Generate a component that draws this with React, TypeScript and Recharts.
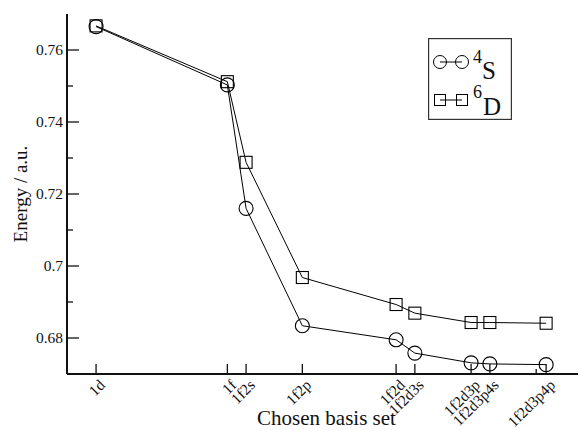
import React from 'react';
import { LineChart, Line, XAxis, YAxis, Legend } from 'recharts';

const basisSets = ['1d', '1f', '1f2s', '1f2p', '1f2d', '1f2d3s', '1f2d3p', '1f2d3p4s', '1f2d3p4p'];
// number of basis functions added (d=5, f=7, s=1, p=3), used as x position
const basisSize = [5, 12, 13, 16, 21, 22, 25, 26, 29];
const energy4S = [0.7665, 0.7503, 0.716, 0.6834, 0.6795, 0.6758, 0.6731, 0.6728, 0.6726];
const energy6D = [0.7667, 0.7512, 0.7288, 0.6968, 0.6893, 0.6869, 0.6843, 0.6843, 0.6841];
const xMinorTicks = [28.47];
const yTicks = [0.68, 0.69, 0.7, 0.71, 0.72, 0.73, 0.74, 0.75, 0.76];
const yLabels = ['0.68', '', '0.7', '', '0.72', '', '0.74', '', '0.76'];

const data = basisSets.map((name, i) => ({
  name,
  x: basisSize[i],
  s: energy4S[i],
  d: energy6D[i],
}));

const FONT = '"Liberation Serif", "Times New Roman", serif';
const INK = '#111';
const xTicks = [...basisSize, ...xMinorTicks];

const labelFor = (v: number) => {
  const i = basisSize.indexOf(v);
  return i >= 0 ? basisSets[i] : null;
};

const BottomTick = (props: any) => {
  const { x, y, payload } = props;
  const label = labelFor(payload.value);
  const len = label ? 10 : 5;
  return (
    <g>
      <line x1={x} y1={y} x2={x} y2={y - len} stroke={INK} strokeWidth={1.3} />
      {label && (
        <text
          transform={`translate(${x + 10},${y + 12}) rotate(-45)`}
          textAnchor="end"
          fontSize={15.5}
          fontFamily={FONT}
          fill={INK}
        >
          {label}
        </text>
      )}
    </g>
  );
};

const TopTick = (props: any) => {
  const { x, y, payload } = props;
  const len = labelFor(payload.value) ? 10 : 5;
  return <line x1={x} y1={y} x2={x} y2={y + len} stroke={INK} strokeWidth={1.3} />;
};

const LeftTick = (props: any) => {
  const { x, y, index } = props;
  const label = yLabels[index];
  const len = label ? 12 : 6;
  return (
    <g>
      <line x1={x} y1={y} x2={x + len} y2={y} stroke={INK} strokeWidth={1.3} />
      {label && (
        <text x={x - 4} y={y} dy="0.35em" textAnchor="end" fontSize={15.5} fontFamily={FONT} fill={INK}>
          {label}
        </text>
      )}
    </g>
  );
};

const RightTick = (props: any) => {
  const { x, y, index } = props;
  const len = yLabels[index] ? 12 : 6;
  return <line x1={x} y1={y} x2={x - len} y2={y} stroke={INK} strokeWidth={1.3} />;
};

const CircleDot = (props: any) => {
  const { cx, cy } = props;
  if (cx == null || cy == null) return null;
  return <circle cx={cx} cy={cy} r={7} fill="none" stroke="#000" strokeWidth={1.1} />;
};

const SquareDot = (props: any) => {
  const { cx, cy } = props;
  if (cx == null || cy == null) return null;
  return <rect x={cx - 6} y={cy - 6} width={12} height={12} fill="none" stroke="#000" strokeWidth={1.1} />;
};

const LegendBox = () => (
  <svg width={84} height={82} style={{ display: 'block' }}>
    <rect x={0.6} y={0.6} width={82.8} height={80.8} fill="#fff" stroke="#333" strokeWidth={1.2} />
    <line x1={12} y1={24} x2={34} y2={24} stroke="#000" strokeWidth={1} />
    <circle cx={12} cy={24} r={6.5} fill="none" stroke="#000" strokeWidth={1} />
    <circle cx={34} cy={24} r={6.5} fill="none" stroke="#000" strokeWidth={1} />
    <text x={45} y={25} fontSize={18} fontFamily={FONT} fill={INK}>4</text>
    <text x={54} y={41} fontSize={25} fontFamily={FONT} fill={INK}>S</text>
    <line x1={12} y1={62} x2={34} y2={62} stroke="#000" strokeWidth={1} />
    <rect x={6.5} y={56.5} width={11} height={11} fill="none" stroke="#000" strokeWidth={1} />
    <rect x={28.5} y={56.5} width={11} height={11} fill="none" stroke="#000" strokeWidth={1} />
    <text x={45} y={60} fontSize={18} fontFamily={FONT} fill={INK}>6</text>
    <text x={55} y={77} fontSize={25} fontFamily={FONT} fill={INK}>D</text>
  </svg>
);

export default function App() {
  return (
    <div style={{ position: 'absolute', left: 0, top: 0, width: 582, height: 430, background: '#fff' }}>
      <LineChart width={582} height={430} data={data} margin={{ top: 14, right: 4, left: 0, bottom: 0 }}>
        <XAxis
          dataKey="x"
          type="number"
          domain={[3.45, 30.7]}
          ticks={xTicks}
          interval={0}
          height={56}
          tickSize={0}
          tickMargin={0}
          tickLine={false}
          tick={<BottomTick />}
          axisLine={{ stroke: INK, strokeWidth: 2 }}
          allowDataOverflow
          label={(p: any) => {
            const vb = p.viewBox;
            return (
              <text
                x={vb.x + vb.width / 2 + 4}
                y={425}
                textAnchor="middle"
                fontSize={21}
                fontFamily={FONT}
                fill={INK}
              >
                Chosen basis set
              </text>
            );
          }}
        />
        <XAxis
          xAxisId="top"
          orientation="top"
          dataKey="x"
          type="number"
          domain={[3.45, 30.7]}
          ticks={xTicks}
          interval={0}
          height={0}
          tickSize={0}
          tickMargin={0}
          tickLine={false}
          tick={<TopTick />}
          axisLine={{ stroke: INK, strokeWidth: 2 }}
          allowDataOverflow
        />
        <YAxis
          type="number"
          domain={[0.67, 0.77]}
          ticks={yTicks}
          interval={0}
          width={67}
          tickSize={0}
          tickMargin={0}
          tickLine={false}
          tick={<LeftTick />}
          axisLine={{ stroke: INK, strokeWidth: 2 }}
          allowDataOverflow
          label={(p: any) => {
            const vb = p.viewBox;
            const cy = vb.y + vb.height / 2;
            return (
              <text
                transform={`translate(20,${cy}) rotate(-90)`}
                textAnchor="middle"
                dy="0.35em"
                fontSize={19}
                fontFamily={FONT}
                fill={INK}
              >
                Energy / a.u.
              </text>
            );
          }}
        />
        <YAxis
          yAxisId="right"
          orientation="right"
          type="number"
          domain={[0.67, 0.77]}
          ticks={yTicks}
          interval={0}
          width={0}
          tickSize={0}
          tickMargin={0}
          tickLine={false}
          tick={<RightTick />}
          axisLine={{ stroke: INK, strokeWidth: 2 }}
          allowDataOverflow
        />
        <Legend
          layout="vertical"
          align="center"
          verticalAlign="middle"
          content={() => <LegendBox />}
          wrapperStyle={{ position: 'absolute', left: 428, top: 38, width: 84, height: 82 }}
        />
        <Line
          type="linear"
          dataKey="d"
          stroke="#000"
          strokeWidth={1}
          dot={<SquareDot />}
          activeDot={false}
          isAnimationActive={false}
        />
        <Line
          type="linear"
          dataKey="s"
          stroke="#000"
          strokeWidth={1}
          dot={<CircleDot />}
          activeDot={false}
          isAnimationActive={false}
        />
      </LineChart>
    </div>
  );
}
